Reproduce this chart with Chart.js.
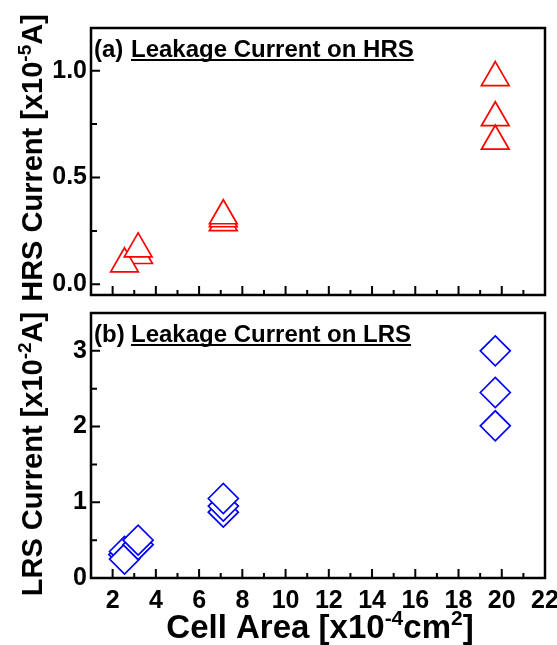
<!DOCTYPE html>
<html>
<head>
<meta charset="utf-8">
<script src="https://cdn.jsdelivr.net/npm/chart.js@4.4.1/dist/chart.umd.min.js"></script>
<style>
  html, body { margin: 0; padding: 0; background: #fff; }
  #wrap { position: relative; width: 557px; height: 645px; }
  #top { position: absolute; left: 0; top: 0; }
  #bottom { position: absolute; left: 0; top: 300px; }
</style>
</head>
<body>
<div id="wrap">
  <canvas id="top" width="557" height="305"></canvas>
  <canvas id="bottom" width="557" height="345"></canvas>
</div>
<script>
// cell area [x10^-4 cm^2] and currents
const hrsArea    = [3.2, 2.55, 3.18, 7.12, 7.12, 7.12, 19.7, 19.7, 19.7];
const hrsCurrent = [0.135, 0.096, 0.166, 0.289, 0.307, 0.321, 0.968, 0.78, 0.67];   // x10^-5 A
const lrsArea    = [2.52, 2.55, 2.55, 3.18, 3.18, 7.12, 7.12, 7.12, 19.7, 19.7, 19.7];
const lrsCurrent = [0.31, 0.35, 0.25, 0.44, 0.5, 0.87, 0.95, 1.05, 3.0, 2.45, 2.01]; // x10^-2 A

const xMajorTicks = [2, 4, 6, 8, 10, 12, 14, 16, 18, 20, 22];
const xMinorTicks = [3, 5, 7, 9, 11, 13, 15, 17, 19, 21];
const hrsMajorTicks = [0, 0.5, 1.0];
const hrsMinorTicks = [0.25, 0.75];
const lrsMajorTicks = [0, 1, 2, 3];
const lrsMinorTicks = [0.5, 1.5, 2.5];

const FONT = "'Liberation Sans', Arial, sans-serif";

function setTicks(major, minor) {
  return scale => {
    scale.ticks = major.concat(minor).sort((a, b) => a - b).map(v => ({ value: v }));
  };
}

function drawRich(ctx, parts, cx, baseY, size, supSize, rise) {
  let w = 0;
  parts.forEach(p => {
    ctx.font = 'bold ' + (p.sup ? supSize : size) + 'px ' + FONT;
    w += ctx.measureText(p.t).width;
  });
  let x = cx - w / 2;
  parts.forEach(p => {
    ctx.font = 'bold ' + (p.sup ? supSize : size) + 'px ' + FONT;
    ctx.fillText(p.t, x, baseY - (p.sup ? rise : 0));
    x += ctx.measureText(p.t).width;
  });
}

// frame, inward ticks, panel tag and axis titles
const frameTicks = {
  id: 'frameTicks',
  afterDatasetsDraw(chart, args, o) {
    const { ctx, chartArea: a, scales: { x, y } } = chart;
    ctx.save();
    ctx.strokeStyle = '#000';
    ctx.fillStyle = '#000';
    ctx.lineWidth = 2;
    ctx.beginPath();
    o.xMajor.forEach(v => { const p = x.getPixelForValue(v); ctx.moveTo(p, a.bottom); ctx.lineTo(p, a.bottom - 9); });
    o.xMinor.forEach(v => { const p = x.getPixelForValue(v); ctx.moveTo(p, a.bottom); ctx.lineTo(p, a.bottom - 5); });
    o.yMajor.forEach(v => { const p = y.getPixelForValue(v); ctx.moveTo(a.left, p); ctx.lineTo(a.left + 9, p); });
    o.yMinor.forEach(v => { const p = y.getPixelForValue(v); ctx.moveTo(a.left, p); ctx.lineTo(a.left + 6, p); });
    ctx.stroke();
    ctx.lineWidth = 2.5;
    ctx.strokeRect(a.left, a.top, a.right - a.left, a.bottom - a.top);

    // panel tag
    const base = a.top + 29;
    ctx.font = 'bold 24px ' + FONT;
    ctx.textBaseline = 'alphabetic';
    ctx.textAlign = 'left';
    ctx.fillText(o.tag, 94, base);
    ctx.fillText(o.note, 131, base);
    const nw = ctx.measureText(o.note).width;
    ctx.lineWidth = 2;
    ctx.beginPath();
    ctx.moveTo(131, base + 3);
    ctx.lineTo(131 + nw, base + 3);
    ctx.stroke();

    // y title
    ctx.save();
    ctx.translate(42, o.yTitleY);
    ctx.rotate(-Math.PI / 2);
    drawRich(ctx, o.yTitle, 0, 0, 29, 19, 11);
    ctx.restore();

    if (o.xTitle) drawRich(ctx, o.xTitle, 320, o.xTitleY, 33, 21, 13);
    ctx.restore();
  }
};

function makeChart(id, pts, style, color, radius, yMin, yMax, major, minor, fmt, pad, xAxisH, showX, extra) {
  return new Chart(document.getElementById(id), {
    type: 'scatter',
    data: {
      datasets: [{
        data: pts,
        pointStyle: style,
        pointRadius: radius,
        pointHoverRadius: radius,
        borderColor: color,
        backgroundColor: '#fff',
        pointBorderWidth: 1.7,
        clip: false
      }]
    },
    options: {
      responsive: false,
      animation: false,
      events: [],
      layout: { padding: pad, autoPadding: false },
      plugins: {
        legend: { display: false },
        tooltip: { enabled: false },
        frameTicks: Object.assign({
          xMajor: xMajorTicks, xMinor: xMinorTicks, yMajor: major, yMinor: minor
        }, extra)
      },
      scales: {
        x: {
          type: 'linear', min: 1, max: 22,
          afterBuildTicks: setTicks(xMajorTicks, xMinorTicks),
          ticks: {
            display: showX, autoSkip: false, maxRotation: 0, padding: 8, color: '#000',
            font: { family: FONT, size: 25, weight: 'bold' },
            callback: v => xMajorTicks.includes(v) ? String(v) : ''
          },
          grid: { display: false, drawTicks: false },
          border: { display: false },
          afterFit: s => { s.height = xAxisH; s.paddingLeft = 0; s.paddingRight = 0; }
        },
        y: {
          min: yMin, max: yMax,
          afterBuildTicks: setTicks(major, minor),
          ticks: {
            autoSkip: false, padding: 4, color: '#000',
            font: { family: FONT, size: 25, weight: 'bold' },
            callback: v => major.includes(v) ? fmt(v) : ''
          },
          grid: { display: false, drawTicks: false },
          border: { display: false },
          afterFit: s => { s.width = 91; s.paddingTop = 0; s.paddingBottom = 0; }
        }
      }
    },
    plugins: [frameTicks]
  });
}

makeChart('top',
  hrsArea.map((a, i) => ({ x: a, y: hrsCurrent[i] })),
  'triangle', '#ff0000', 16, -0.05, 1.2, hrsMajorTicks, hrsMinorTicks,
  v => v.toFixed(1),
  { left: 0, top: 28, right: 12, bottom: 10 }, 0, false,
  {
    tag: '(a)', note: 'Leakage Current on HRS', yTitleY: 158,
    yTitle: [{ t: 'HRS Current [x10' }, { t: '-5', sup: true }, { t: 'A]' }]
  });

makeChart('bottom',
  lrsArea.map((a, i) => ({ x: a, y: lrsCurrent[i] })),
  'rectRot', '#0000ff', 15, 0, 3.5, lrsMajorTicks, lrsMinorTicks,
  v => String(v),
  { left: 0, top: 13, right: 12, bottom: 0 }, 67, true,
  {
    tag: '(b)', note: 'Leakage Current on LRS', yTitleY: 154,
    yTitle: [{ t: 'LRS Current [x10' }, { t: '-2', sup: true }, { t: 'A]' }],
    xTitle: [{ t: 'Cell Area [x10' }, { t: '-4', sup: true }, { t: 'cm' }, { t: '2', sup: true }, { t: ']' }],
    xTitleY: 338
  });
</script>
</body>
</html>
